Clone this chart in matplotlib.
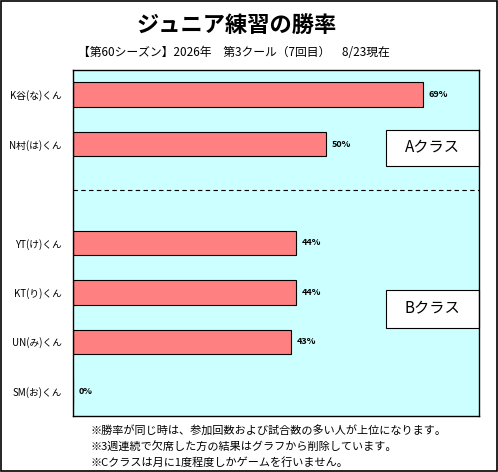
import matplotlib
matplotlib.use("Agg")
import matplotlib.pyplot as plt
from matplotlib.patches import Rectangle

plt.rcParams['font.family'] = ['Noto Sans CJK JP', 'DejaVu Sans']

names = ["K谷(な)くん", "N村(は)くん", "", "YT(け)くん", "KT(り)くん", "UN(み)くん", "SM(お)くん"]
rates = [69, 50, None, 44, 44, 43, 0]
title = "ジュニア練習の勝率"
subtitle = "【第60シーズン】2026年　第3クール（7回目）　8/23現在"
notes = ["※勝率が同じ時は、参加回数および試合数の多い人が上位になります。",
         "※3週連続で欠席した方の結果はグラフから削除しています。",
         "※Cクラスは月に1度程度しかゲームを行いません。"]

W, H = 498, 472
fig = plt.figure(figsize=(W / 100, H / 100), dpi=100)
fig.patches.append(Rectangle((0.002, 0.002), 0.996, 0.996, transform=fig.transFigure,
                             fill=False, edgecolor='black', linewidth=1.2))

ax = fig.add_axes([73 / W, 1 - 416 / H, 406 / W, 346 / H])
ax.set_facecolor('#CCFFFF')

ys = [i for i, r in enumerate(rates) if r is not None]
vals = [r for r in rates if r is not None]
ax.barh(ys, vals, height=0.5, color='#FF8080', edgecolor='black', linewidth=0.8)
for y, v in zip(ys, vals):
    ax.text(v + 1.1, y, f"{v}%", va='center', ha='left', fontsize=6.5, fontweight='bold')

ax.set_xlim(0, 80.1)
ax.set_ylim(6.5, -0.5)
ax.set_yticks(ys)
ax.set_yticklabels([names[i] for i in ys], fontsize=7)
ax.tick_params(axis='y', length=0, pad=8)
ax.set_xticks([])
for s in ax.spines.values():
    s.set_linewidth(1)

ax.axhline(1.93, color='black', linestyle=(0, (4, 3)), linewidth=0.8)

for y0, y1, label in [(0.7225, 0.8266, "Aクラス"), (0.254, 0.364, "Bクラス")]:
    ax.add_patch(Rectangle((0.771, y0), 0.229, y1 - y0, transform=ax.transAxes,
                           facecolor='white', edgecolor='black', linewidth=0.8, clip_on=False))
    ax.text(0.8855, (y0 + y1) / 2, label, transform=ax.transAxes,
            ha='center', va='center', fontsize=11)

fig.text(237 / W, 1 - 25 / H, title, ha='center', va='center', fontsize=16, fontweight='bold')
fig.text(234 / W, 1 - 52 / H, subtitle, ha='center', va='center', fontsize=8.5)
for i, n in enumerate(notes):
    fig.text(90 / W, 1 - (430 + i * 16.5) / H, n, ha='left', va='center', fontsize=8)

fig.savefig("out.png", dpi=100)
